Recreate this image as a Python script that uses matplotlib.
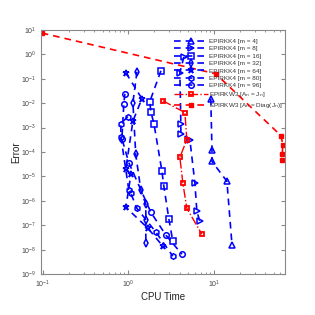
import numpy as np
import matplotlib
matplotlib.use("Agg")
import matplotlib.pyplot as plt

plt.rcParams["font.family"] = ["Liberation Sans", "DejaVu Sans"]
plt.rcParams["mathtext.fontset"] = "custom"
plt.rcParams["mathtext.rm"] = "Liberation Sans"

# EPIRKK4, one series per Krylov size m
m4_time = [9.2, 9.5, 9.5, 14.2, 16.3]
m4_err = [0.0153, 1.26e-4, 4.1e-5, 6.3e-6, 1.53e-8]

m8_time = [4.46, 4.0, 4.11, 4.11, 5.24, 6.0, 6.32, 6.85]
m8_err = [0.79, 0.176, 1.46e-3, 5.7e-4, 3.2e-4, 5.2e-6, 3.7e-7, 1.46e-7]

m16_time = [2.40, 1.78, 1.83, 1.99, 2.47, 2.60, 2.98, 3.31]
m16_err = [0.212, 0.0115, 0.0045, 1.46e-3, 1.6e-5, 3.9e-6, 1.76e-7, 2.2e-8]

m32_time = [1.26, 1.13, 1.22, 1.40, 1.60, 1.60, 1.60]
m32_err = [0.193, 0.0105, 7.9e-5, 2.7e-6, 7.2e-7, 1.6e-7, 1.84e-8]

m64_time = [0.935, 1.44, 1.13, 0.935, 1.07, 0.935, 1.69, 2.53]
m64_err = [0.176, 0.0153, 1.84e-3, 2.1e-5, 1.2e-5, 5.4e-7, 7.6e-8, 1.39e-8]

m80_time = [0.986, 0.817, 0.817, 1.01, 1.07, 1.26, 2.10, 3.31]
m80_err = [2.81e-3, 1.46e-3, 4.3e-4, 2.9e-6, 2.0e-6, 4.9e-7, 5.2e-8, 5.4e-9]

m96_time = [0.91, 0.885, 0.84, 1.01, 1.83, 2.75, 4.23]
m96_err = [0.0244, 9.5e-3, 3.56e-4, 3.7e-5, 3.4e-7, 3.9e-8, 6.5e-9]

# EPIRKW3 variants
w3j_time = [2.53, 4.58, 4.83, 4.0, 4.34, 4.83, 7.24]
w3j_err = [1.26e-2, 4.1e-3, 3.2e-4, 6e-5, 5.2e-6, 4.9e-7, 4.3e-8]

w3d_time = [0.097, 10.5, 60.8, 64.0, 63.0, 63.0]
w3d_err = [7.5, 0.16, 4.7e-4, 2.0e-4, 7.9e-5, 4.9e-5]

labels = ['EPIRKK4 [m = 4]', 'EPIRKK4 [m = 8]', 'EPIRKK4 [m = 16]',
          'EPIRKK4 [m = 32]', 'EPIRKK4 [m = 64]', 'EPIRKK4 [m = 80]',
          'EPIRKK4 [m = 96]', 'EPIRKW3 [A$_n$ = J$_n$]',
          'EPIRKW3 [A$_n$ = Diag(J$_n$)]']

fig = plt.figure(figsize=(3.15, 3.15), dpi=100)
ax = fig.add_axes([0.130, 0.130, 0.775, 0.775])

blue = (0, 0, 1)
red = (1, 0, 0)
blue_sets = [(m4_time, m4_err, '^'), (m8_time, m8_err, '>'),
             (m16_time, m16_err, 's'), (m32_time, m32_err, 'd'),
             (m64_time, m64_err, '*'), (m80_time, m80_err, 'h'),
             (m96_time, m96_err, 'o')]
for i, (t, e, mk) in enumerate(blue_sets):
    ax.plot(t, e, linestyle='--', color=blue, linewidth=1.2,
            marker=mk, markersize=4.5 if mk == '*' else 4,
            markerfacecolor='none',
            markeredgewidth=1.1, dashes=(4, 3), label=labels[i])

ax.plot(w3j_time, w3j_err, linestyle='-.', color=red, linewidth=1.0,
        marker='s', markersize=3.5, markerfacecolor='none',
        markeredgewidth=1.3, label=labels[7])
ax.plot(w3d_time, w3d_err, linestyle='--', color=red, linewidth=1.2,
        marker='s', markersize=3.5, markerfacecolor=red,
        dashes=(4, 3), label=labels[8])

ax.set_xscale('log')
ax.set_yscale('log')
ax.set_xlim(0.095, 68)
ax.set_ylim(1e-9, 10)
ax.set_yticks([10.0 ** k for k in range(-9, 2)])
ax.set_xticks([0.1, 1, 10])

for s in ax.spines.values():
    s.set_color('#888888')
    s.set_linewidth(0.8)
ax.tick_params(which='both', direction='in', top=True, right=True,
               colors='#888888', labelcolor='#444444', labelsize=5)
ax.tick_params(which='major', length=3)
ax.tick_params(which='minor', length=1.5)

ax.set_xlabel('CPU Time', fontsize=7, color='#222222', labelpad=1)
ax.set_ylabel('Error', fontsize=7, color='#222222', labelpad=0)

leg = ax.legend(loc='upper right', fontsize=4.6, frameon=False,
                handlelength=5.2, labelspacing=0.3, borderaxespad=0.0,
                handletextpad=0.2, bbox_to_anchor=(1.0, 0.975))
for t in leg.get_texts():
    t.set_color('#333333')

fig.savefig('out.png', dpi=100, facecolor='white')
